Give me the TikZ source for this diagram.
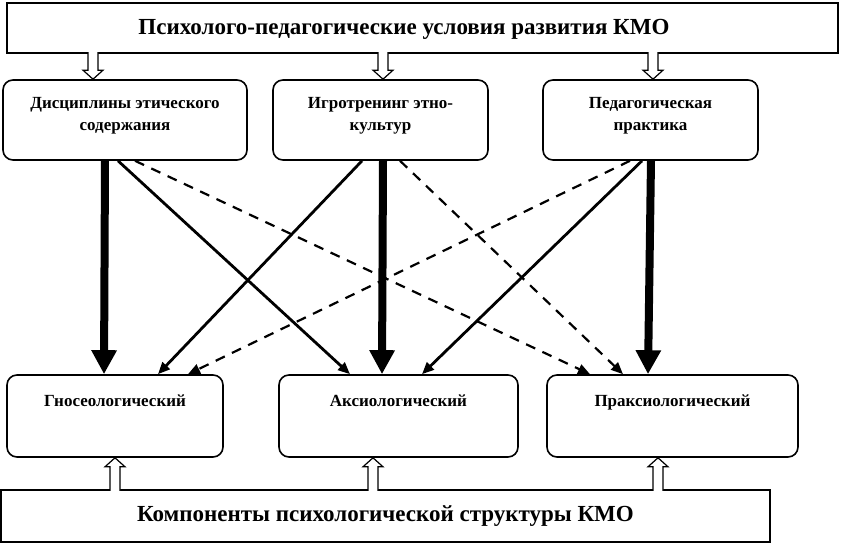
\documentclass[tikz,border=0pt]{standalone}
\usepackage{fontspec}
\setmainfont{Liberation Serif}
\usetikzlibrary{arrows.meta}

\tikzset{
  flatbox/.style={draw, line width=1.6pt, inner sep=0pt},
  roundbox/.style={draw, line width=1.6pt, rounded corners=10pt, inner sep=0pt, minimum height=#1},
  headtext/.style={font=\bfseries\fontsize{23}{26}\selectfont},
  boxtext/.style={font=\bfseries\fontsize{17}{22}\selectfont, align=center, inner sep=0pt},
  comptext/.style={boxtext, text height=12pt, text depth=4pt},
  mainlink/.style={line width=8pt, -{Triangle[length=24pt,width=24pt]}},
  sidelink/.style={line width=2.8pt, -{Triangle[length=12pt,width=10pt]}},
  weaklink/.style={line width=2.2pt, dash pattern=on 10pt off 8pt, -{Triangle[length=12pt,width=10pt]}},
  hollow/.pic={\draw[line width=1.2pt, fill=white] (-5,-#1) -- (-5,-9) -- (-10,-9) -- (0,0) -- (10,-9) -- (5,-9) -- (5,-#1);}
}

\begin{document}
\begin{tikzpicture}[x=1pt,y=1pt]
  \useasboundingbox (0,0) rectangle (841,544);
  % conditions and components
  \node[flatbox, minimum width=831pt, minimum height=50pt] (cond) at (422.5,516) {};
  \node[headtext] at ([xshift=-18.5pt,yshift=-1pt]cond.center) {Психолого-педагогические условия развития КМО};
  \node[flatbox, minimum width=769pt, minimum height=52pt, headtext] (comp) at (385.5,28) {Компоненты психологической структуры КМО};
  % forms of work
  \node[roundbox=80pt, minimum width=244pt] (dis) at (125,424) {};
  \node[roundbox=80pt, minimum width=215pt] (igr) at (380.5,424) {};
  \node[roundbox=80pt, minimum width=215pt] (ped) at (650.5,424) {};
  \node[boxtext] at ([yshift=4pt]dis.center) {Дисциплины этического\\содержания};
  \node[boxtext] at ([yshift=4pt]igr.center) {Игротренинг этно-\\культур};
  \node[boxtext] at ([yshift=4pt]ped.center) {Педагогическая\\практика};
  % components
  \node[roundbox=82pt, minimum width=216pt] (gno) at (115,128) {};
  \node[roundbox=82pt, minimum width=239pt] (aks) at (398.5,128) {};
  \node[roundbox=82pt, minimum width=251pt] (pra) at (672.5,128) {};
  \node[comptext] at ([yshift=13pt]gno.center) {Гносеологический};
  \node[comptext] at ([yshift=13pt]aks.center) {Аксиологический};
  \node[comptext] at ([yshift=13pt]pra.center) {Праксиологический};
  % hollow arrows
  \pic[rotate=180] at ([xshift=-32pt]dis.north) {hollow=27};
  \pic[rotate=180] at ([xshift=2.5pt]igr.north) {hollow=27};
  \pic[rotate=180] at ([xshift=2.5pt]ped.north) {hollow=27};
  \pic at (gno.south) {hollow=33};
  \pic at ([xshift=-25.5pt]aks.south) {hollow=33};
  \pic at ([xshift=-14.5pt]pra.south) {hollow=33};
  % links
  \draw[mainlink] ([xshift=-20pt]dis.south) -- ([xshift=-11pt]gno.north);
  \draw[mainlink] ([xshift=2.5pt]igr.south) -- ([xshift=-16.5pt]aks.north);
  \draw[mainlink] ([xshift=0.5pt]ped.south) -- ([xshift=-24.5pt]pra.north);
  \draw[sidelink] ([xshift=-7pt]dis.south) -- ([xshift=-48.5pt]aks.north);
  \draw[sidelink] ([xshift=-18.5pt]igr.south) -- ([xshift=43pt]gno.north);
  \draw[sidelink] ([xshift=-8.5pt]ped.south) -- ([xshift=23.5pt]aks.north);
  \draw[weaklink] ([xshift=10pt]dis.south) -- ([xshift=-82.5pt]pra.north);
  \draw[weaklink] ([xshift=19.5pt]igr.south) -- ([xshift=-49.5pt]pra.north);
  \draw[weaklink] ([xshift=-20.5pt]ped.south) -- ([xshift=73pt]gno.north);
\end{tikzpicture}
\end{document}
